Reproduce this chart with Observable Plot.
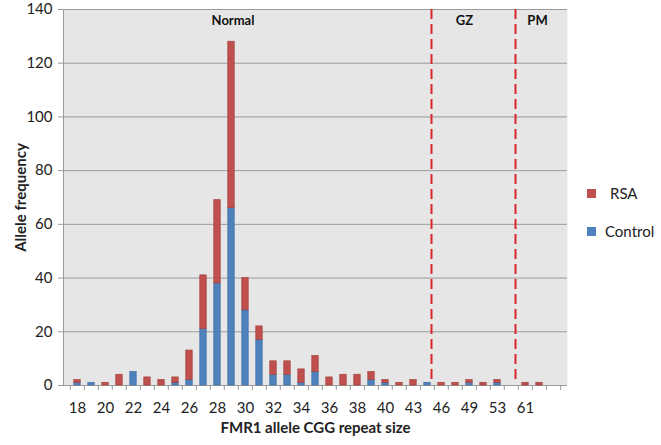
<!DOCTYPE html>
<html>
<head>
<meta charset="utf-8">
<script src="https://cdn.jsdelivr.net/npm/d3@7"></script>
<script src="https://cdn.jsdelivr.net/npm/@observablehq/plot@0.6"></script>
<style>
  body { margin: 0; background: #fff; font-family: Lato, "Open Sans", sans-serif; }
  #wrap { position: relative; width: 661px; height: 445px; }
  #legend { position: absolute; left: 587px; top: 183px; font: 15px Lato, "Open Sans", sans-serif; color: #222; }
  .item { display: flex; align-items: center; height: 20px; margin-bottom: 18px; }
  .sw { width: 9px; height: 9px; margin-right: 9px; }
  svg [aria-label="x-axis label"] text, svg [aria-label="y-axis label"] text { font-weight: bold; }
</style>
</head>
<body>
<div id="wrap">
  <div id="chart"></div>
  <div id="legend"></div>
</div>
<script>
const categories = ["18","19","20","21","22","23","24","25","26","27","28","29","30","31","32","33","34","35","36","37","38","39","40","42","43","44","46","47","49","51","53","55","61","62","65"];
const tickLabels = ["18","20","22","24","26","28","30","32","34","36","38","40","43","46","49","53","61"];
const controlValues = [1,1,0,0,5,0,0,1,2,21,38,66,28,17,4,4,1,5,0,0,0,2,1,0,0,1,0,0,1,0,1,0,0,0,0];
const rsaValues     = [1,0,1,4,0,3,2,2,11,20,31,62,12,5,5,5,5,6,3,4,4,3,1,1,2,0,1,1,1,1,1,0,1,1,0];
const seriesNames = ["Control", "RSA"];
const seriesFill = ["#4F81BD", "#C0504D"];
const seriesStroke = ["#3F6EA6", "#A43E3B"];
const legendOrder = ["RSA", "Control"];
const yTicks = [0,20,40,60,80,100,120,140];
const zoneNames = ["Normal", "GZ", "PM"];
const zoneNameAt = ["29", "49", "62"];
const zoneNameDx = [1.5, -5, -2];
const zoneBounds = ["44", "55"];

const rows = [];
categories.forEach((c, i) => {
  rows.push({cat: c, series: "Control", value: controlValues[i]});
  rows.push({cat: c, series: "RSA", value: rsaValues[i]});
});
const fillOf = s => seriesFill[seriesNames.indexOf(s)];
const strokeOf = s => seriesStroke[seriesNames.indexOf(s)];

const zoneTextMarks = zoneNames.map((n, i) =>
  Plot.text([{name: n, at: zoneNameAt[i], top: 140}], {
    x: "at", y: "top", text: "name", dy: 11, dx: zoneNameDx[i],
    fontWeight: "bold", fontSize: 13, fill: "#111"
  })
);

const chart = Plot.plot({
  width: 661,
  height: 445,
  marginLeft: 63,
  marginRight: 94,
  marginTop: 9,
  marginBottom: 60,
  style: {fontFamily: "Lato, 'Open Sans', sans-serif", fontSize: "15px", color: "#222", background: "transparent"},
  x: {type: "band", domain: categories, paddingInner: 0, paddingOuter: 0},
  y: {domain: [0, 140]},
  marks: [
    Plot.frame({fill: "#e6e6e6", stroke: null}),
    Plot.gridY({ticks: yTicks, stroke: "#9b9b9b", strokeOpacity: 1, strokeWidth: 1}),
    Plot.frame({anchor: "left", stroke: "#9b9b9b"}),
    Plot.ruleY([0], {stroke: "#9b9b9b"}),
    Plot.barY(rows.filter(d => d.value > 0), {
      x: "cat", y: "value",
      fill: d => fillOf(d.series), stroke: d => strokeOf(d.series), strokeWidth: 0.7,
      insetLeft: 3.8, insetRight: 3.8
    }),
    ...zoneBounds.map(b => Plot.ruleX([b], {x: d => d, y1: 140, y2: 2, dx: 4, stroke: "#D9262B", strokeWidth: 2, strokeDasharray: "10,5"})),
    ...zoneTextMarks,
    Plot.axisY({ticks: yTicks, tickSize: 5, tickPadding: 6, stroke: "#9b9b9b", label: "Allele frequency", labelAnchor: "center", labelArrow: "none", labelOffset: 48}),
    Plot.axisX({ticks: categories, tickSize: 5, tickFormat: () => "", dx: -7.2, stroke: "#9b9b9b", label: null}),
    Plot.axisX({ticks: [categories[categories.length - 1]], tickSize: 5, tickFormat: () => "", dx: 7.2, stroke: "#9b9b9b", label: null}),
    Plot.axisX({ticks: tickLabels, tickSize: 0, tickPadding: 17, label: "FMR1 allele CGG repeat size", labelAnchor: "center", labelArrow: "none", labelOffset: 47})
  ]
});
document.getElementById("chart").appendChild(chart);

const legend = document.getElementById("legend");
legendOrder.forEach(name => {
  const item = document.createElement("div");
  item.className = "item";
  const sw = document.createElement("div");
  sw.className = "sw";
  sw.style.background = fillOf(name);
  const label = document.createElement("span");
  label.textContent = name;
  if (name === "RSA") label.style.paddingLeft = "5px";
  item.appendChild(sw);
  item.appendChild(label);
  legend.appendChild(item);
});
</script>
</body>
</html>
